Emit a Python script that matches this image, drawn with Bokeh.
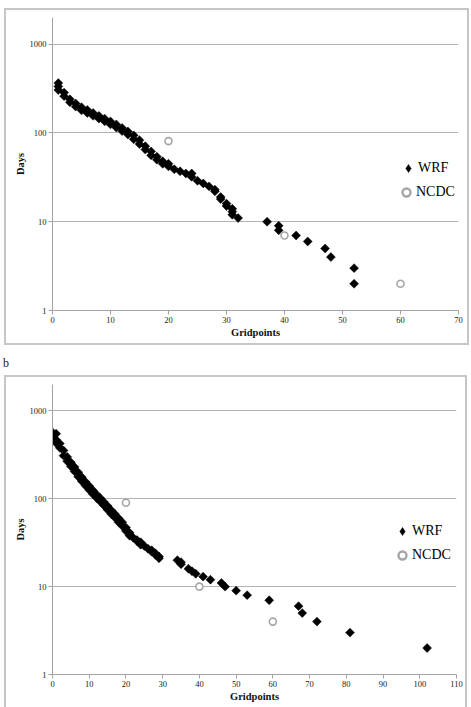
import math
from bokeh.plotting import figure
from bokeh.models import (Range1d, FixedTicker, PrintfTickFormatter, Legend, LegendItem,
                          ColumnDataSource, Div)
from bokeh.layouts import column
from bokeh.embed import file_html
from bokeh.resources import INLINE

# ---------------- data ----------------
y_ticks = [1, 10, 100, 1000]

# panel a
a_x_ticks = [0, 10, 20, 30, 40, 50, 60, 70]
a_wrf_x = [1, 1, 1, 2, 2, 3, 3, 4, 4, 5, 5, 6, 6, 7, 7, 8, 8, 9, 9, 10, 10, 11, 11, 12, 12, 13, 13,
           14, 14, 15, 15, 16, 16, 17, 17, 18, 18, 19, 19, 20, 20, 21, 22, 23, 24, 24, 25, 26, 27,
           28, 28, 29, 29, 30, 30, 31, 31, 31, 32, 37, 39, 39, 42, 44, 47, 48, 52, 52]
a_wrf_y = [365, 335, 305, 285, 260, 240, 222, 215, 198, 195, 180, 182, 168, 168, 156, 156, 145, 145,
           135, 135, 125, 125, 115, 114, 105, 104, 96, 94, 85, 83, 75, 71, 65, 62, 56, 54, 50, 48, 45,
           45, 42, 39, 37, 35, 35, 32, 29, 27, 25, 23, 22, 19, 18, 16, 15, 14, 13, 12, 11, 10, 9, 8,
           7, 6, 5, 4, 3, 2]
a_ncdc_x = [20, 40, 60]
a_ncdc_y = [81, 7, 2]

# panel b
b_x_ticks = [0, 10, 20, 30, 40, 50, 60, 70, 80, 90, 100, 110]
b_wrf_x = [0, 0, 1, 1, 1, 2, 2, 3, 3, 4, 4, 5, 5, 6, 6, 7, 7, 8, 8, 9, 9, 10, 10, 11, 11, 12, 12,
           13, 13, 14, 14, 15, 15, 16, 16, 17, 17, 18, 18, 19, 19, 20, 20, 21, 21, 22, 23, 23, 24,
           24, 25, 26, 27, 27, 28, 28, 29, 29, 34, 35, 35, 37, 38, 39, 41, 43, 46, 47, 50, 53, 59,
           67, 68, 72, 81, 102]
b_wrf_y = [570, 510, 550, 470, 430, 425, 380, 355, 310, 300, 268, 260, 234, 230, 205, 200, 178, 176,
           158, 156, 141, 140, 126, 125, 113, 112, 102, 102, 93, 92, 84, 83, 75, 74, 67, 67, 61, 60,
           54, 54, 49, 47, 43, 41, 38, 36, 34, 33, 32, 30, 29, 27, 26, 25, 24, 23, 22, 21, 20, 19,
           18, 16, 15, 14, 13, 12, 11, 10, 9, 8, 7, 6, 5, 4, 3, 2]
b_ncdc_x = [20, 40, 60]
b_ncdc_y = [90, 10, 4]

FONT = "Liberation Serif"


def panel(wx, wy, nx, ny, xmax, xticks, w, h, borders, margin, box_style, loc_w, loc_n):
    mbl, mbr, mbt, mbb = borders
    p = figure(width=w, height=h, x_range=Range1d(0, xmax), y_range=Range1d(1, 2000),
               y_axis_type="log", output_backend="svg", toolbar_location=None,
               min_border_left=mbl, min_border_right=mbr, min_border_top=mbt, min_border_bottom=mbb,
               background_fill_color="white", border_fill_color="white", outline_line_color=None,
               margin=margin, styles=box_style)
    p.xgrid.visible = False
    p.ygrid.ticker = FixedTicker(ticks=y_ticks)
    p.ygrid.grid_line_color = "#b3b3b3"
    p.ygrid.grid_line_width = 1
    p.yaxis.ticker = FixedTicker(ticks=y_ticks)
    p.yaxis.formatter = PrintfTickFormatter(format="%d")
    p.xaxis.ticker = FixedTicker(ticks=xticks)
    for ax in (p.xaxis[0], p.yaxis[0]):
        ax.axis_line_color = "#a3a3a3"
        ax.major_tick_line_color = "#a3a3a3"
        ax.major_tick_out = 4
        ax.major_tick_in = 0
        ax.minor_tick_line_color = None
        ax.major_label_text_font = FONT
        ax.major_label_text_font_size = "8.5px"
        ax.major_label_text_color = "#222222"
        ax.axis_label_text_font = FONT
        ax.axis_label_text_font_style = "bold"
        ax.axis_label_text_font_size = "10.5px"
        ax.axis_label_text_color = "#111111"
        ax.major_label_standoff = 2
        ax.axis_label_standoff = 1
    p.xaxis.axis_label = "Gridpoints"
    p.yaxis.axis_label = "Days"

    src_w = ColumnDataSource(dict(x=wx, y=wy))
    src_n = ColumnDataSource(dict(x=nx, y=ny))
    p.scatter("x", "y", source=src_w, marker="square", angle=math.pi / 4, size=6.3,
              fill_color="black", line_color="black", line_width=0.5)
    rw_leg = p.scatter("x", "y", source=src_w, marker="diamond", size=8,
                       fill_color="black", line_color="black", line_width=0.5, visible=False)
    p.scatter("x", "y", source=src_n, marker="circle", size=7, fill_color="white",
              line_color="#a6a6a6", line_width=1.6)
    rn_leg = p.scatter("x", "y", source=src_n, marker="circle", size=7, fill_color="white",
                       line_color="#a6a6a6", line_width=2.4, visible=False)

    common = dict(padding=0, margin=0, border_line_color=None, background_fill_alpha=0,
                  label_text_font=FONT, label_text_font_size="14px", label_text_color="black",
                  glyph_width=20, glyph_height=20, label_height=20, label_standoff=0)
    p.add_layout(Legend(items=[LegendItem(label="WRF", renderers=[rw_leg])], location=loc_w, **common))
    p.add_layout(Legend(items=[LegendItem(label="NCDC", renderers=[rn_leg])], location=loc_n, **common))
    return p


pa = panel(a_wrf_x, a_wrf_y, a_ncdc_x, a_ncdc_y, 70, a_x_ticks, 465, 337,
           (45, 12, 7, 37), (8, 0, 0, 4), {"border": "2px solid #c6c6c6"},
           (346, 132), (344, 108))

lab_b = Div(text='<div style="font-family:\'Liberation Serif\';font-size:12px;line-height:12px;'
                 'padding-top:12px;padding-left:3px;color:#222">b</div>',
            width=465, height=30, margin=0)

pb = panel(b_wrf_x, b_wrf_y, b_ncdc_x, b_ncdc_y, 110, b_x_ticks, 463, 332,
           (46, 13, 7, 35), (0, 0, 0, 4),
           {"border": "2px solid #c6c6c6", "border-bottom": "none"},
           (340, 133), (340, 109))

layout = column(pa, lab_b, pb, spacing=0)

open("out.html", "w").write(file_html(layout, INLINE))
